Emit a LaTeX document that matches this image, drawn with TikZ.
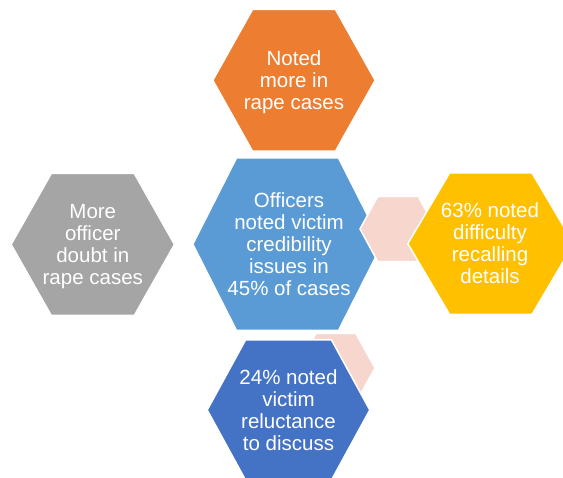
\documentclass[tikz,border=0pt]{standalone}
\usepackage{fontspec}
\setmainfont{Liberation Sans}
\definecolor{hexgray}{HTML}{A5A5A5}
\definecolor{hexorange}{HTML}{ED7D31}
\definecolor{hexblue}{HTML}{5B9BD5}
\definecolor{hexyellow}{HTML}{FFC000}
\definecolor{hexdarkblue}{HTML}{4472C4}
\definecolor{hexpink}{HTML}{F7D7CD}
% hexagon: style, centre x, centre y, half width, half height, half top edge
\newcommand{\hexshape}[6]{%
  \path[#1] ({#2-#4},#3) -- ({#2-#6},{#3-#5}) -- ({#2+#6},{#3-#5})
    -- ({#2+#4},#3) -- ({#2+#6},{#3+#5}) -- ({#2-#6},{#3+#5}) -- cycle;}
\tikzset{
  hexfill/.style={fill=#1, draw=white, line width=1.5pt, line join=miter},
  hexlabel/.style={text=white, align=center, inner sep=0pt, text depth=0pt,
    font=\fontsize{20.5}{22}\selectfont}
}
\begin{document}
\begin{tikzpicture}[x=1pt, y=-1pt]
  \useasboundingbox (0,0) rectangle (563,478);
  % cluster of hexagons, back to front
  \hexshape{hexfill=hexgray}{92.8}{244.5}{81.7}{71}{41.5}
  \hexshape{hexfill=hexorange}{294}{80.3}{81.2}{70.8}{41.5}
  \hexshape{hexfill=hexblue}{287.5}{244.2}{94.7}{86.3}{51}
  \hexshape{hexfill=hexpink}{398}{229}{38}{32.7}{20.2}
  \hexshape{hexfill=hexpink}{336}{368}{39}{34.5}{20}
  \hexshape{hexfill=hexyellow}{490.8}{243.7}{83}{70.8}{41.2}
  \hexshape{hexfill=hexdarkblue}{288.5}{410}{81.3}{70}{43}
  % labels
  \node[hexlabel] (doubt) at (92.8,244) {More\\officer\\doubt in\\rape cases};
  \node[hexlabel] (rape) at (294,80) {Noted\\more in\\rape cases};
  \node[hexlabel] (central) at (289,244) {Officers\\noted victim\\credibility\\issues in\\45\% of cases};
  \node[hexlabel] (recall) at (490,243) {63\% noted\\difficulty\\recalling\\details};
  \node[hexlabel] (reluct) at (288.5,410) {24\% noted\\victim\\reluctance\\to discuss};
\end{tikzpicture}
\end{document}
